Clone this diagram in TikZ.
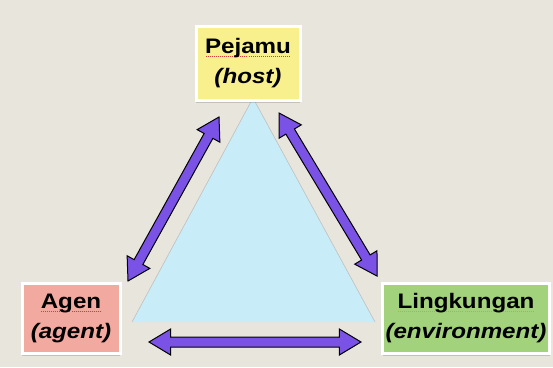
\documentclass[tikz,border=0pt]{standalone}
\usepackage{fontspec}
\newfontfamily\boxfont[FakeStretch=1.15]{Liberation Sans}
\usetikzlibrary{calc,shapes.arrows,shadows}
\definecolor{bgcol}{HTML}{E8E5DD}
\definecolor{hostcol}{HTML}{F8F08C}
\definecolor{agentcol}{HTML}{F2A9A0}
\definecolor{envcol}{HTML}{A3D27D}
\definecolor{tricol}{HTML}{C8EDF8}
\definecolor{arrcol}{HTML}{7B52E6}
\definecolor{spellred}{HTML}{D0403A}
\definecolor{spellorange}{HTML}{D9A030}
% dotted spell-check mark under a word
\newsavebox\spellbox
\newcommand\spell[2]{\sbox\spellbox{#2}\rlap{\textcolor{#1}{\hbox to \wd\spellbox{\xleaders\hbox to 2pt{\hss\rule[-3.5pt]{1pt}{1pt}\hss}\hfill}}}\usebox\spellbox}
\tikzset{
  factor/.style={draw=white, line width=3pt, inner sep=0pt, align=center,
    font=\boxfont\bfseries\fontsize{21}{30}\selectfont,
    drop shadow={shadow xshift=0pt, shadow yshift=-2.5pt, opacity=.35}},
  fatarr/.style={double arrow, draw=black, line width=1pt, fill=arrcol, inner xsep=0pt, inner ysep=4.5pt,
    double arrow head extend=8pt, double arrow tip angle=62}
}
\newcommand\fatarrow[2]{\path let \p1=($(#2)-(#1)$), \n1={atan2(\y1,\x1)}, \n2={veclen(\x1,\y1)}
  in node[fatarr, rotate=\n1, minimum height=\n2] at ($(#1)!.5!(#2)$) {};}
\begin{document}
\begin{tikzpicture}[x=1pt,y=-1pt]
\fill[bgcol] (0,0) rectangle (553,367);
\useasboundingbox (0,0) rectangle (553,367);
% triangle
\fill[tricol] (132,322) -- (253,98) -- (375,322) -- cycle;
\draw[black!25, line width=.6pt] (132,322) -- (253,98) -- (375,322);
% the three factors
\path (248,63) node[factor, fill=hostcol, minimum width=104pt, minimum height=74pt] (host) {\spell{spellred}{Pejamu}\\\textit{(host)}}
(71,318) node[factor, fill=agentcol, minimum width=98pt, minimum height=70pt] (agent) {\spell{spellred}{Agen}\\\textit{(agent)}}
(466,318) node[factor, fill=envcol, minimum width=167pt, minimum height=70pt] (env) {\spell{spellorange}{Lingkungan}\\\textit{(environment)}};
% arrow ends
\path (128,281) coordinate (al) (219,117) coordinate (hl)
(279,113) coordinate (hr) (377,276) coordinate (el)
(149,342) coordinate (ab) (361,342) coordinate (eb);
\fatarrow{al}{hl}
\fatarrow{hr}{el}
\fatarrow{ab}{eb}
\end{tikzpicture}
\end{document}
